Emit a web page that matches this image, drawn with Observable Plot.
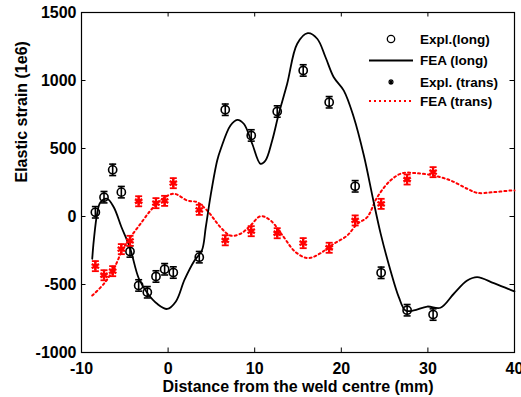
<!DOCTYPE html>
<html><head><meta charset="utf-8">
<script src="https://cdn.jsdelivr.net/npm/d3@7"></script>
<script src="https://cdn.jsdelivr.net/npm/@observablehq/plot@0.6"></script>
<style>
body{margin:0;background:#fff;}
#chart{position:relative;width:521px;height:397px;overflow:hidden;}
</style></head><body><div id="chart"></div>
<script>
// Experimental longitudinal strain (circles)
const explLongX = [-8.4,-7.4,-6.4,-5.4,-4.4,-3.4,-2.4,-1.4,-0.4,0.6,3.6,6.6,9.6,12.6,15.6,18.6,21.6,24.6,27.6,30.6];
const explLongY = [31,142,343,179,-257,-507,-557,-441,-388,-412,-299,785,596,772,1074,840,222,-414,-689,-721];
// Experimental transverse strain (red stars)
const explTransX = [-8.4,-7.4,-6.4,-5.4,-4.4,-3.4,-1.4,-0.4,0.6,3.6,6.6,9.6,12.6,15.6,18.6,21.6,24.6,27.6,30.6];
const explTransY = [-365,-432,-402,-240,-179,112,98,115,245,49,-175,-108,-123,-196,-230,-29,93,272,326];
const errLong = 42;
const errTrans = 37;
// FEA longitudinal (solid black)
const feaLongX = [-8.76,-8.58,-8.19,-7.81,-7.03,-6.27,-5.38,-4.42,-3.38,-2.34,-1.26,-0.1,0.9,1.9,3.05,3.9,4.35,4.9,5.67,6.1,7.2,7.98,8.74,9.71,10.67,11.25,12.02,12.78,13.75,14.91,16.13,17.22,18.18,19.13,20.29,21.44,22.6,23.7,24.53,25.68,26.64,27.41,28.37,29.92,31.45,32.99,34.54,35.69,37.61,39.54,40];
const feaLongY = [-311,-176,22,105,130,68,-79,-226,-456,-568,-642,-680,-625,-465,-324,-250,-79,150,412,500,669,711,682,535,387,412,559,755,976,1270,1348,1307,1171,1024,926,730,450,118,-122,-397,-593,-691,-691,-662,-671,-568,-471,-446,-490,-539,-550];
// FEA transverse (red dotted)
const feaTransX = [-8.76,-7.42,-6.27,-5.3,-4.34,-3.19,-2.03,-0.88,0.66,2.2,3.36,4.51,6.05,7.2,8.36,9.52,10.67,11.82,13.36,14.52,15.67,16.44,17.6,19.13,20.68,21.84,22.99,24.15,25.68,27.03,28.76,30.68,32.61,34.54,35.69,37.61,39.54,40];
const feaTransY = [-581,-495,-385,-250,-152,-54,44,118,167,118,105,44,-79,-140,-127,-66,2,-29,-152,-250,-299,-304,-270,-201,-140,-54,-5,142,265,318,318,301,265,204,174,179,191,192];

const xTicks = [-10,0,10,20,30,40];
const yTicks = [-1000,-500,0,500,1000,1500];
const xLabel = "Distance from the weld centre (mm)";
const yLabel = "Elastic strain (1e6)";
const legendLabels = ["Expl.(long)","FEA (long)","Expl. (trans)","FEA (trans)"];

const explLong = explLongX.map((x,i)=>({x, y: explLongY[i]}));
const explTrans = explTransX.map((x,i)=>({x, y: explTransY[i]}));
const feaLong = feaLongX.map((x,i)=>({x, y: feaLongY[i]}));
const feaTrans = feaTransX.map((x,i)=>({x, y: feaTransY[i]}));

const cap = {draw(ctx, size){ const w = Math.sqrt(size/Math.PI); ctx.moveTo(-w,0); ctx.lineTo(w,0); }};

const tickLen = 4.5;
const H = 397, W = 521, mL = 81, mR = 7, mT = 12, mB = 45;
const fw = W - mL - mR, fh = H - mT - mB;

const chart = Plot.plot({
  width: W, height: H,
  marginLeft: mL, marginRight: mR, marginTop: mT, marginBottom: mB,
  x: {domain: [-10, 40]},
  y: {domain: [-1000, 1500]},
  style: {fontFamily: "'Liberation Sans', Arial, sans-serif", fontSize: "16px", fontWeight: "bold", background: "white", color: "black"},
  marks: [
    Plot.axisX({ticks: xTicks, tickSize: 0, tickPadding: 10, label: null, tickFormat: d => String(d)}),
    Plot.axisY({ticks: yTicks, tickSize: 0, tickPadding: 5, label: null, tickFormat: d => String(d)}),
    Plot.tickX(xTicks, {x: d => d, insetTop: fh - tickLen, stroke: "black"}),
    Plot.tickX(xTicks, {x: d => d, insetBottom: fh - tickLen, stroke: "black"}),
    Plot.tickY(yTicks, {y: d => d, insetRight: fw - tickLen, stroke: "black"}),
    Plot.tickY(yTicks, {y: d => d, insetLeft: fw - tickLen, stroke: "black"}),
    Plot.frame({stroke: "black", strokeWidth: 1.2}),
    Plot.text([xLabel], {text: d => d, frameAnchor: "bottom", dy: 28, lineAnchor: "top", fontSize: 16}),
    Plot.text([yLabel], {text: d => d, frameAnchor: "left", dx: -60, rotate: -90, lineAnchor: "middle", fontSize: 16}),
    Plot.line(feaTrans, {x: "x", y: "y", stroke: "#ff0000", strokeWidth: 2, strokeDasharray: "2,3", curve: "catmull-rom"}),
    Plot.line(feaLong, {x: "x", y: "y", stroke: "black", strokeWidth: 1.8, curve: "catmull-rom"}),
    Plot.ruleX(explLong, {x: "x", y1: d => d.y - errLong, y2: d => d.y + errLong, stroke: "black", strokeWidth: 1.6}),
    Plot.dot(explLong, {x: "x", y: d => d.y + errLong, symbol: cap, r: 3.5, stroke: "black", fill: "none", strokeWidth: 1.6}),
    Plot.dot(explLong, {x: "x", y: d => d.y - errLong, symbol: cap, r: 3.5, stroke: "black", fill: "none", strokeWidth: 1.6}),
    Plot.dot(explLong, {x: "x", y: "y", r: 4.1, stroke: "black", fill: "none", strokeWidth: 1.6}),
    Plot.ruleX(explTrans, {x: "x", y1: d => d.y - errTrans, y2: d => d.y + errTrans, stroke: "#ff0000", strokeWidth: 1.8}),
    Plot.dot(explTrans, {x: "x", y: d => d.y + errTrans, symbol: cap, r: 3.5, stroke: "#ff0000", fill: "none", strokeWidth: 1.8}),
    Plot.dot(explTrans, {x: "x", y: d => d.y - errTrans, symbol: cap, r: 3.5, stroke: "#ff0000", fill: "none", strokeWidth: 1.8}),
    Plot.dot(explTrans, {x: "x", y: "y", symbol: "asterisk", r: 4, stroke: "#ff0000", strokeWidth: 2.4})
  ]
});

// legend inside the plot, top right
const svg = d3.select(chart);
const lg = svg.append("g").attr("font-size", 13.5).attr("font-weight", "bold").attr("font-family", "'Liberation Sans', Arial, sans-serif").attr("text-anchor", "start");
const rowsY = [39, 60.5, 82, 101];
lg.append("circle").attr("cx", 391).attr("cy", rowsY[0]).attr("r", 3.7).attr("fill", "none").attr("stroke", "black").attr("stroke-width", 1.3);
lg.append("line").attr("x1", 369).attr("x2", 413).attr("y1", rowsY[1]).attr("y2", rowsY[1]).attr("stroke", "black").attr("stroke-width", 1.8);
lg.append("path").attr("transform", `translate(391,${rowsY[2]})`).attr("d", "M-3,0H3M0,-3V3M-2,-2L2,2M-2,2L2,-2").attr("stroke", "black").attr("stroke-width", 1.2).attr("fill", "none");
lg.append("line").attr("x1", 369).attr("x2", 413).attr("y1", rowsY[3]).attr("y2", rowsY[3]).attr("stroke", "#ff0000").attr("stroke-width", 2).attr("stroke-dasharray", "2,3");
legendLabels.forEach((t, i) => {
  lg.append("text").attr("x", 420).attr("y", rowsY[i]).attr("dy", "0.35em").attr("fill", "black").attr("text-anchor", "start").text(t);
});

document.getElementById("chart").appendChild(chart);
</script>
</body></html>
